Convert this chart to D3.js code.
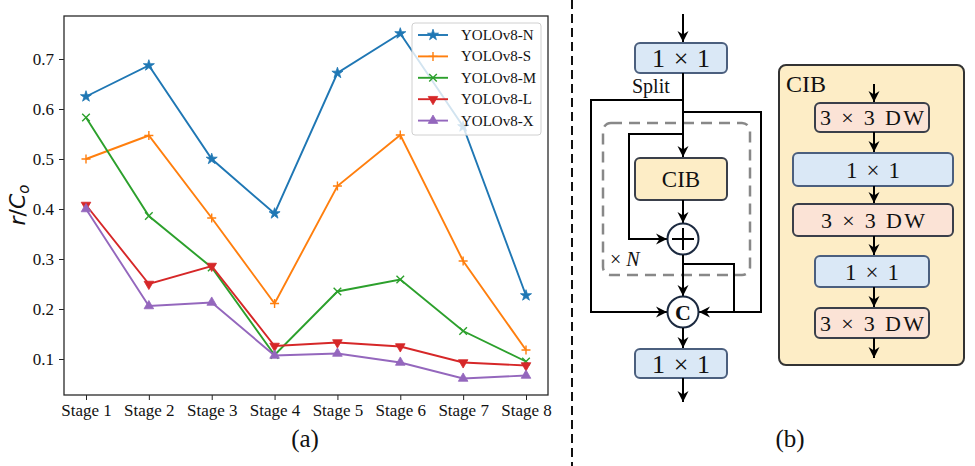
<!DOCTYPE html>
<html><head><meta charset="utf-8">
<script src="https://cdn.jsdelivr.net/npm/d3@7"></script>
<style>body{margin:0;background:#fff}svg{display:block}</style>
</head><body>
<script>
const stages = ["Stage 1","Stage 2","Stage 3","Stage 4","Stage 5","Stage 6","Stage 7","Stage 8"];
const seriesNames = ["YOLOv8-N","YOLOv8-S","YOLOv8-M","YOLOv8-L","YOLOv8-X"];
const valuesN = [0.625,0.687,0.500,0.391,0.672,0.751,0.565,0.227];
const valuesS = [0.500,0.547,0.382,0.211,0.446,0.548,0.296,0.118];
const valuesM = [0.583,0.386,0.283,0.108,0.235,0.259,0.156,0.095];
const valuesL = [0.408,0.250,0.286,0.126,0.133,0.125,0.093,0.087];
const valuesX = [0.400,0.206,0.213,0.107,0.111,0.093,0.061,0.067];
const yTicks = [0.1,0.2,0.3,0.4,0.5,0.6,0.7];
const colors = ["#1f77b4","#ff7f0e","#2ca02c","#d62728","#9467bd"];
const markers = ["star","plus","x","tdown","tup"];
const allValues = [valuesN,valuesS,valuesM,valuesL,valuesX];

const W=975,H=466;
const svg=d3.select("body").append("svg").attr("width",W).attr("height",H);
const serif="'Liberation Serif','DejaVu Serif',serif";

const defs=svg.append("defs");
defs.append("marker").attr("id","ah").attr("viewBox","-12 -6 13 12").attr("refX",0).attr("refY",0)
  .attr("markerWidth",13).attr("markerHeight",12).attr("markerUnits","userSpaceOnUse").attr("orient","auto")
  .append("path").attr("d","M0,0 L-11,-5.5 L-7.5,0 L-11,5.5 Z").attr("fill","#000");

// ---------- (a) line chart ----------
const L=64,R=548,T=16,B=395;
const x=d3.scalePoint().domain(stages).range([L,R]).padding(0.35);
const y=d3.scaleLinear().domain([0.028,0.786]).range([B,T]);
const g=svg.append("g");

function markerPath(type){
  if(type==="star") return d3.symbol(d3.symbolStar,38)();
  if(type==="tup"||type==="tdown") return d3.symbol(d3.symbolTriangle,40)();
  const h=4.5;
  if(type==="plus") return `M${-h},0L${h},0M0,${-h}L0,${h}`;
  const q=3.8;
  return `M${-q},${-q}L${q},${q}M${-q},${q}L${q},${-q}`;
}
function drawMarker(sel,type,c,px,py){
  const p=sel.append("path").attr("d",markerPath(type)).attr("transform",`translate(${px},${py})${type==="tdown"?" rotate(180)":""}`);
  if(type==="plus"||type==="x") p.attr("fill","none").attr("stroke",c).attr("stroke-width",1.4);
  else p.attr("fill",c).attr("stroke",c).attr("stroke-width",0.8);
}

const line=d3.line().x((d,i)=>x(stages[i])).y(d=>y(d));
allValues.forEach((vals,k)=>{
  g.append("path").datum(vals).attr("d",line).attr("fill","none").attr("stroke",colors[k]).attr("stroke-width",1.9);
  vals.forEach((v,i)=>drawMarker(g,markers[k],colors[k],x(stages[i]),y(v)));
});

// axes
const yAxis=d3.axisLeft(y).tickValues(yTicks).tickFormat(d3.format(".1f")).tickSize(5).tickPadding(5);
const xAxis=d3.axisBottom(x).tickSize(5).tickPadding(4);
const ya=g.append("g").attr("transform",`translate(${L},0)`).call(yAxis);
const xa=g.append("g").attr("transform",`translate(0,${B})`).call(xAxis);
[ya,xa].forEach(a=>{a.attr("font-family",serif).attr("font-size",17);a.select(".domain").remove();a.selectAll("line").attr("stroke","#222").attr("stroke-width",1);
  a.selectAll("text").attr("font-family",serif).attr("font-size",17).attr("fill","#111");});
g.append("rect").attr("x",L).attr("y",T).attr("width",R-L).attr("height",B-T).attr("fill","none").attr("stroke","#2a2a2a").attr("stroke-width",1.3);

// y label
const yl=g.append("text").attr("transform",`translate(25,205) rotate(-90)`).attr("text-anchor","middle")
  .attr("font-family","'DejaVu Sans',sans-serif").attr("font-size",22).attr("fill","#111");
yl.append("tspan").attr("font-style","italic").text("r");
yl.append("tspan").text("/");
yl.append("tspan").attr("font-style","italic").text("C");
yl.append("tspan").attr("font-style","italic").attr("font-size",15).attr("dy",4).text("o");

// legend
const lg=g.append("g");
lg.append("rect").attr("x",412).attr("y",23).attr("width",129).attr("height",112).attr("rx",3)
  .attr("fill","#fff").attr("fill-opacity",0.8).attr("stroke","#d0d0d0").attr("stroke-width",1);
seriesNames.forEach((n,k)=>{
  const ry=35+k*21.4;
  lg.append("line").attr("x1",418).attr("x2",448).attr("y1",ry).attr("y2",ry).attr("stroke",colors[k]).attr("stroke-width",1.9);
  drawMarker(lg,markers[k],colors[k],433,ry);
  lg.append("text").attr("x",461).attr("y",ry+5).attr("font-family",serif).attr("font-size",15).attr("fill","#111").text(n);
});

svg.append("text").attr("x",305).attr("y",447).attr("text-anchor","middle").attr("font-family",serif).attr("font-size",25).attr("fill","#111").text("(a)");
svg.append("text").attr("x",790).attr("y",447).attr("text-anchor","middle").attr("font-family",serif).attr("font-size",25).attr("fill","#111").text("(b)");

// divider
svg.append("line").attr("x1",572).attr("x2",572).attr("y1",0).attr("y2",H).attr("stroke","#111").attr("stroke-width",2).attr("stroke-dasharray","9,5");

// ---------- (b) diagram ----------
const d=svg.append("g");
const blue="#dae8f6", blueS="#4b5f7e", yel="#fdedc6", pink="#fbe3d6", dark="#3a3f4a";
function box(x0,y0,w,h,fill,stroke,txt,fs,tl){
  d.append("rect").attr("x",x0).attr("y",y0).attr("width",w).attr("height",h).attr("rx",5).attr("fill",fill).attr("stroke",stroke).attr("stroke-width",2);
  const t=d.append("text").attr("x",x0+w/2).attr("y",y0+h/2).attr("dy","0.35em").attr("text-anchor","middle")
    .attr("font-family",serif).attr("font-size",fs).attr("fill","#111").text(txt);
  if(tl) t.attr("textLength",tl).attr("lengthAdjust","spacing");
}
function path(dd,arrow){
  const p=d.append("path").attr("d",dd).attr("fill","none").attr("stroke","#000").attr("stroke-width",2);
  if(arrow) p.attr("marker-end","url(#ah)");
}
const cx=683;
// dashed group
d.append("rect").attr("x",603).attr("y",123).attr("width",147).attr("height",152).attr("rx",8)
  .attr("fill","none").attr("stroke","#888").attr("stroke-width",2.5).attr("stroke-dasharray","11,7");
path(`M${cx},14 L${cx},42`,true);
box(635,43,92,30,blue,blueS,"1 × 1",26,58);
d.append("text").attr("x",632).attr("y",93).attr("font-family",serif).attr("font-size",20).attr("fill","#111").text("Split");
path(`M${cx},73 L${cx},157`,true);
path(`M${cx},100 L591,100 L591,312 L667,312`,true);
path(`M${cx},112 L761,112 L761,312 L699,312`,true);
path(`M${cx},134 L629,134 L629,239 L667,239`,true);
box(635,158,92,42,yel,dark,"CIB",23);
path(`M${cx},200 L${cx},223`,true);
// plus circle
d.append("circle").attr("cx",cx).attr("cy",239).attr("r",15.5).attr("fill","#fff").attr("stroke","#1c2a40").attr("stroke-width",2);
path(`M${cx-11},239 L${cx+11},239 M${cx},228 L${cx},250`,false);
path(`M${cx},255 L${cx},296`,true);
path(`M${cx},264 L734,264 L734,312`,false);
d.append("text").attr("x",610).attr("y",266).attr("font-family",serif).attr("font-size",20).attr("fill","#111")
  .call(t=>{t.append("tspan").text("× ");t.append("tspan").attr("font-style","italic").text("N");});
// concat circle
d.append("circle").attr("cx",cx).attr("cy",312).attr("r",15.5).attr("fill","#fff").attr("stroke","#1c2a40").attr("stroke-width",2);
d.append("text").attr("x",cx).attr("y",312).attr("dy","0.35em").attr("text-anchor","middle").attr("font-family",serif)
  .attr("font-weight","bold").attr("font-size",22).attr("fill","#111").text("C");
path(`M${cx},328 L${cx},348`,true);
box(635,349,92,29,blue,blueS,"1 × 1",26,58);
path(`M${cx},378 L${cx},402`,true);

// CIB panel
d.append("rect").attr("x",779).attr("y",65).attr("width",185).attr("height",300).attr("rx",7).attr("fill",yel).attr("stroke","#333").attr("stroke-width",2);
d.append("text").attr("x",786).attr("y",92).attr("font-family",serif).attr("font-size",24).attr("fill","#111").text("CIB");
const px=874;
path(`M${px},84 L${px},102`,true);
box(815,103,114,29,pink,dark,"3 × 3 DW",22,104);
path(`M${px},132 L${px},152`,true);
box(793,153,160,33,blue,blueS,"1 × 1",23,54);
path(`M${px},186 L${px},203`,true);
box(793,204,160,32,pink,dark,"3 × 3 DW",22,104);
path(`M${px},236 L${px},255`,true);
box(815,256,114,31,blue,blueS,"1 × 1",23,54);
path(`M${px},287 L${px},307`,true);
box(815,308,114,30,pink,dark,"3 × 3 DW",22,104);
path(`M${px},338 L${px},358`,true);
</script>
</body></html>
